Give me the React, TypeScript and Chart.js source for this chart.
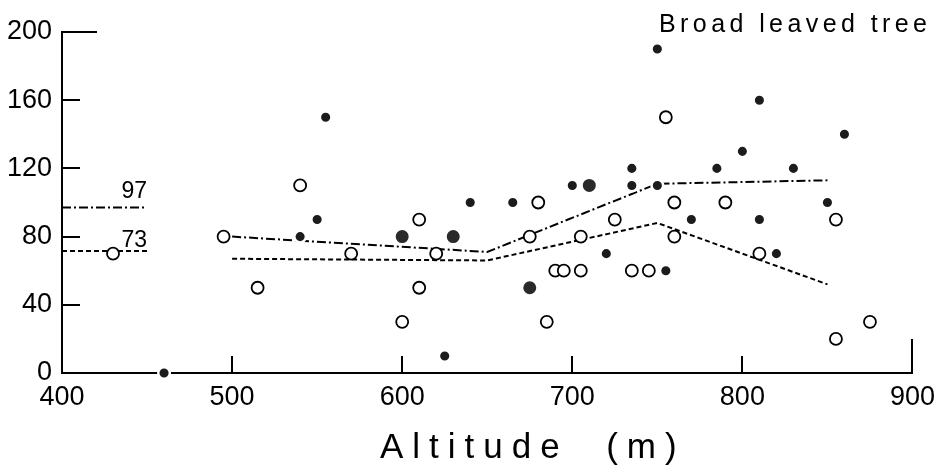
import React, { useEffect, useRef } from "react";
import { Chart, registerables } from "chart.js";

Chart.register(...registerables);

// ---- data ----
const xTickValues = [400, 500, 600, 700, 800, 900];
const yTickValues = [0, 40, 80, 120, 160, 200];

// filled dots (small)
const filledSmallX = [460, 540, 550, 555, 625, 640, 665, 700, 720, 735, 735, 750, 750, 755, 770, 785, 800, 810, 810, 820, 830, 850, 860];
const filledSmallY = [0, 80, 90, 150, 10, 100, 100, 110, 70, 120, 110, 110, 190, 60, 90, 120, 130, 160, 90, 70, 120, 100, 140];

// filled dots (large)
const filledLargeX = [600, 630, 675, 710];
const filledLargeY = [80, 80, 50, 110];

// open circles
const openX = [430, 495, 515, 540, 570, 600, 610, 610, 620, 675, 680, 685, 690, 695, 705, 705, 725, 735, 745, 755, 760, 760, 790, 810, 855, 855, 875];
const openY = [70, 80, 50, 110, 70, 30, 90, 50, 70, 80, 100, 30, 60, 60, 60, 80, 90, 60, 60, 150, 100, 80, 100, 70, 90, 20, 30];

// trend lines
const dashDotX = [500, 650, 750, 850];
const dashDotY = [80, 71, 111, 113];
const dashedX = [500, 650, 750, 850];
const dashedY = [67, 66, 88, 52];

// mean levels shown at the left edge
const levelLabels = ["97", "73"];
const levelValues = [97, 71.5];
const levelX = [400, 450];

const titleText = "Broad leaved tree";
const axisTitle = "Altitude  (m)";

const FONT = "'Liberation Sans', Arial, Helvetica, sans-serif";

const zip = (xs: number[], ys: number[]) => xs.map((x, i) => ({ x, y: ys[i] }));

const overlayPlugin = {
  id: "overlay",
  afterDraw(chart: any) {
    const ctx = chart.ctx as CanvasRenderingContext2D;
    const xs = chart.scales.x;
    const ys = chart.scales.y;
    ctx.save();
    ctx.strokeStyle = "#000";
    ctx.lineWidth = 2;
    ctx.lineCap = "butt";
    // inward y ticks
    yTickValues.forEach((v) => {
      if (v === yTickValues[0]) return;
      const py = Math.round(ys.getPixelForValue(v));
      const len = v === yTickValues[yTickValues.length - 1] ? 35 : 18;
      ctx.beginPath();
      ctx.moveTo(xs.left - 1, py);
      ctx.lineTo(xs.left + len, py);
      ctx.stroke();
    });
    // inward x ticks
    xTickValues.forEach((v) => {
      if (v === xTickValues[0]) return;
      const px = Math.round(xs.getPixelForValue(v));
      const len = v === xTickValues[xTickValues.length - 1] ? 34 : 17;
      ctx.beginPath();
      ctx.moveTo(px, ys.bottom + 1);
      ctx.lineTo(px, ys.bottom - len);
      ctx.stroke();
    });

    ctx.fillStyle = "#000";
    // level labels
    ctx.font = `23px ${FONT}`;
    ctx.textAlign = "right";
    ctx.textBaseline = "alphabetic";
    const offsets = [10, 4];
    levelLabels.forEach((lab, i) => {
      ctx.fillText(lab, xs.getPixelForValue(levelX[1]), ys.getPixelForValue(levelValues[i]) - offsets[i]);
    });

    // title at the top right
    ctx.textAlign = "left";
    ctx.font = `25px ${FONT}`;
    (ctx as any).letterSpacing = "0px";
    const natural = ctx.measureText(titleText).width;
    const sp = (268 - natural) / (titleText.length - 1);
    (ctx as any).letterSpacing = `${sp}px`;
    ctx.fillText(titleText, 659, 32);

    // x-axis title
    ctx.font = `35px ${FONT}`;
    (ctx as any).letterSpacing = "9px";
    ctx.fillText(axisTitle, 380, 458);
    (ctx as any).letterSpacing = "0px";
    ctx.restore();
  },
};

export default function App() {
  const ref = useRef<HTMLCanvasElement | null>(null);

  useEffect(() => {
    if (!ref.current) return;
    const chart = new Chart(ref.current, {
      type: "scatter",
      data: {
        datasets: [
          {
            label: "filled-small",
            data: zip(filledSmallX, filledSmallY),
            backgroundColor: "#1c1c1c",
            borderColor: "#ffffff",
            borderWidth: 2.5,
            pointRadius: 5.8,
            order: 0,
            clip: false,
          } as any,
          {
            label: "filled-large",
            data: zip(filledLargeX, filledLargeY),
            backgroundColor: "#2a2a2a",
            borderColor: "#ffffff",
            borderWidth: 2,
            pointRadius: 7.5,
            order: 0,
            clip: false,
          } as any,
          {
            label: "open",
            data: zip(openX, openY),
            backgroundColor: "#ffffff",
            borderColor: "#000000",
            borderWidth: 1.8,
            pointRadius: 6,
            order: 0,
            clip: false,
          } as any,
          {
            label: "dash-dot",
            type: "line",
            data: zip(dashDotX, dashDotY),
            borderColor: "#000",
            borderWidth: 2,
            borderDash: [9, 3, 2, 3],
            pointRadius: 0,
            fill: false,
            tension: 0,
            order: 1,
          } as any,
          {
            label: "dashed",
            type: "line",
            data: zip(dashedX, dashedY),
            borderColor: "#000",
            borderWidth: 2,
            borderDash: [5, 3],
            pointRadius: 0,
            fill: false,
            tension: 0,
            order: 1,
          } as any,
          {
            label: "level-97",
            type: "line",
            data: zip(levelX, [levelValues[0], levelValues[0]]),
            borderColor: "#000",
            borderWidth: 2,
            borderDash: [9, 3, 2, 3],
            pointRadius: 0,
            fill: false,
            order: 1,
          } as any,
          {
            label: "level-73",
            type: "line",
            data: zip(levelX, [levelValues[1], levelValues[1]]),
            borderColor: "#000",
            borderWidth: 2,
            borderDash: [5, 3],
            pointRadius: 0,
            fill: false,
            order: 1,
          } as any,
        ],
      },
      options: {
        animation: false,
        responsive: false,
        maintainAspectRatio: false,
        layout: { padding: { top: 32, right: 30, left: 0, bottom: 0 } },
        plugins: {
          legend: { display: false },
          tooltip: { enabled: false },
          title: { display: false },
        },
        scales: {
          x: {
            type: "linear",
            min: 400,
            max: 900,
            afterFit: (s: any) => {
              s.height = 95;
            },
            afterBuildTicks: (s: any) => {
              s.ticks = xTickValues.map((v) => ({ value: v }));
            },
            grid: { display: false, drawTicks: false },
            border: { display: true, color: "#000", width: 2 },
            ticks: {
              padding: 8,
              color: "#000",
              font: { family: FONT, size: 27 },
              maxRotation: 0,
            },
          },
          y: {
            type: "linear",
            min: 0,
            max: 200,
            afterFit: (s: any) => {
              s.width = 62;
            },
            afterBuildTicks: (s: any) => {
              s.ticks = yTickValues.map((v) => ({ value: v }));
            },
            grid: { display: false, drawTicks: false },
            border: { display: true, color: "#000", width: 2 },
            ticks: {
              padding: 10,
              color: "#000",
              font: { family: FONT, size: 27 },
            },
          },
        },
      } as any,
      plugins: [overlayPlugin],
    });
    return () => chart.destroy();
  }, []);

  return (
    <div style={{ position: "fixed", left: 0, top: 0, width: 943, height: 468, background: "#fff" }}>
      <canvas ref={ref} width={943} height={468} style={{ display: "block" }} />
    </div>
  );
}
